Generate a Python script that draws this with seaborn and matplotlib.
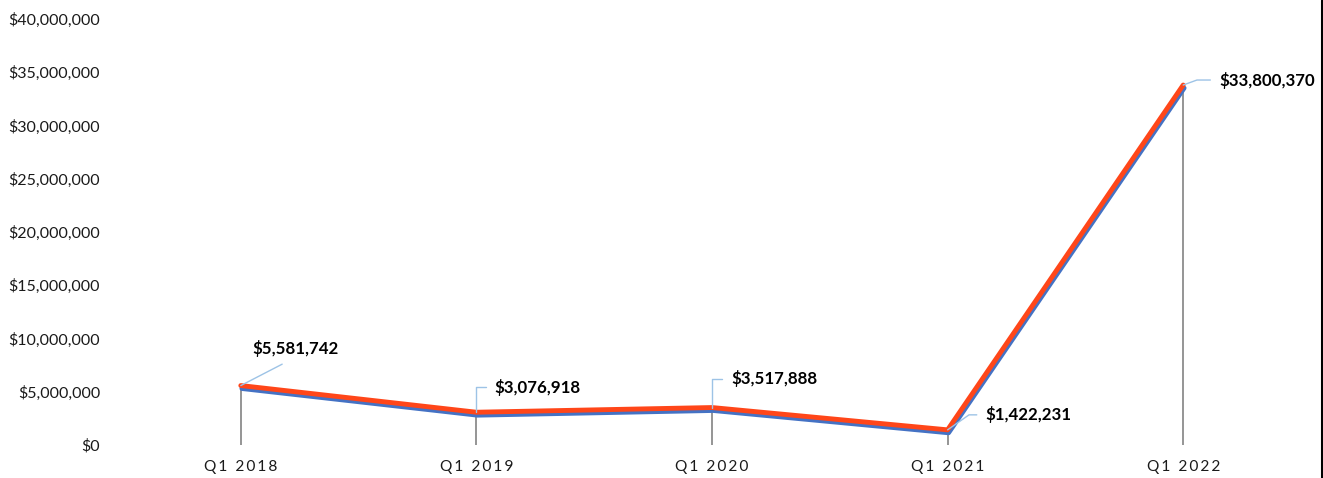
import matplotlib
matplotlib.use("Agg")
import matplotlib.pyplot as plt
import matplotlib.transforms as mtransforms
from matplotlib.lines import Line2D
import seaborn as sns
import pandas as pd

quarters = ["Q1 2018", "Q1 2019", "Q1 2020", "Q1 2021", "Q1 2022"]
values = [5581742, 3076918, 3517888, 1422231, 33800370]
y_ticks = [0, 5_000_000, 10_000_000, 15_000_000, 20_000_000,
           25_000_000, 30_000_000, 35_000_000, 40_000_000]

sns.set_theme(style="white")
plt.rcParams["font.family"] = ["Lato", "DejaVu Sans"]

df = pd.DataFrame({"pos": range(len(quarters)), "quarter": quarters, "value": values})

fig = plt.figure(figsize=(13.23, 4.78), dpi=100)
ax = fig.add_axes([123 / 1323, 33 / 478, 1178 / 1323, 426 / 478])

RED = "#FF4619"
BLUE = "#4472C4"
LEADER = "#9DC3E6"

# drop lines from each point to the baseline
ax.vlines(df["pos"], 0, df["value"], color="#8C8C8C", lw=1.3, zorder=1)

# shadow line, shifted slightly down and right
sns.lineplot(data=df, x="pos", y="value", ax=ax, color=BLUE, lw=3.4,
             solid_capstyle="round", solid_joinstyle="round", zorder=2)
shadow = ax.lines[-1]
shadow.set_transform(ax.transData +
                     mtransforms.ScaledTranslation(1 / 100, -3 / 100, fig.dpi_scale_trans))

# main line
sns.lineplot(data=df, x="pos", y="value", ax=ax, color=RED, lw=3.5,
             solid_capstyle="round", solid_joinstyle="round", zorder=3)

ax.set_xlim(-0.5, len(quarters) - 0.5)
ax.set_ylim(0, 40_000_000)
ax.set_yticks(y_ticks)
ax.set_yticklabels([f"${v:,.0f}" for v in y_ticks], fontsize=11.5, color="#1a1a1a")
ax.set_xticks(range(len(quarters)))
ax.set_xticklabels(["\u2009".join(q) for q in quarters], fontsize=11.2, color="#1a1a1a")
ax.tick_params(axis="y", length=0, pad=16.5)
ax.tick_params(axis="x", length=0, pad=10.5)
ax.set_xlabel("")
ax.set_ylabel("")
for s in ax.spines.values():
    s.set_visible(False)
ax.grid(False)

# data labels with leader lines: (text offset in pixels, connection style, leader gap)
label_layout = [
    ((12, 37), "arc3", 6),
    ((18, 25), "angle,angleA=0,angleB=90,rad=0", 4),
    ((19, 29), "angle,angleA=0,angleB=90,rad=0", 4),
    ((38, 15), "angle,angleA=0,angleB=35,rad=0", 4),
    ((36, 5), "angle,angleA=0,angleB=20,rad=0", 4),
]
for (pos, val), (off, cstyle, shrink) in zip(enumerate(values), label_layout):
    rel = (0.5, 0.0) if cstyle == "arc3" else (0.0, 0.5)
    ax.annotate(f"${val:,.0f}", xy=(pos, val), xytext=off, textcoords="offset pixels",
                ha="left", va="center", fontsize=12.2, fontweight="bold", color="black",
                arrowprops=dict(arrowstyle="-", color=LEADER, lw=1.0,
                                connectionstyle=cstyle, relpos=rel,
                                shrinkA=shrink, shrinkB=0),
                zorder=4)

# right border
fig.add_artist(Line2D([1321.5 / 1323, 1321.5 / 1323], [0, 1], transform=fig.transFigure,
                      color="black", lw=2.2))

fig.savefig("out.png", dpi=100, facecolor="white")
